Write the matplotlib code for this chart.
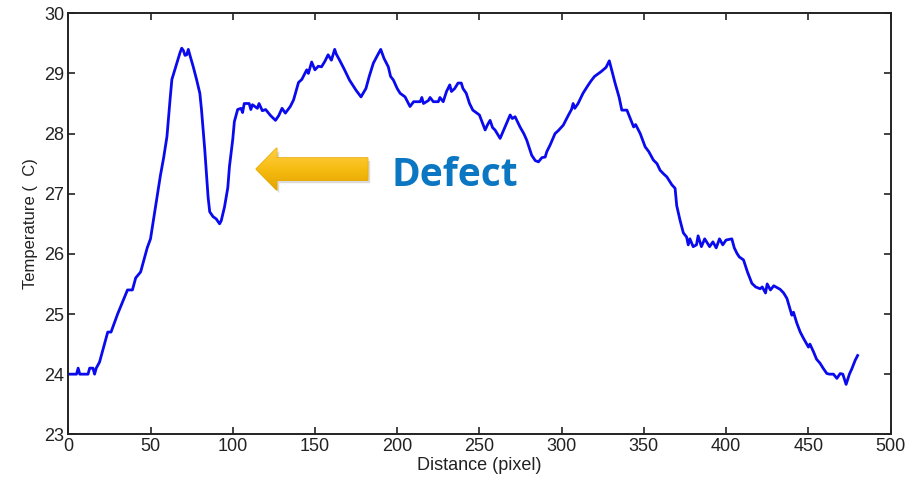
import numpy as np
import matplotlib
matplotlib.use("Agg")
import matplotlib.pyplot as plt
from matplotlib.patches import Polygon
from matplotlib.colors import LinearSegmentedColormap

# =====================================
# DATA
# =====================================

distance = [0, 5, 6, 7, 12, 13, 15, 16, 17, 19, 21, 24, 26, 28, 30, 33, 36, 39, 41, 44,
            47, 48, 50, 52, 54, 56, 58, 60, 62, 63, 66, 68, 69, 70, 71, 72, 73, 74, 76, 78,
            80, 81, 83, 85, 86, 88, 90, 92, 93, 95, 97, 98, 100, 101, 103, 105, 106, 107, 110, 111,
            112, 115, 116, 118, 120, 123, 126, 128, 130, 132, 135, 137, 140, 142, 145, 146, 148, 150, 152, 154,
            156, 158, 160, 162, 163, 165, 168, 171, 175, 178, 181, 183, 185.5, 188, 190, 192, 194.6, 196, 197.7, 200,
            201.8, 204.8, 207.8, 210, 214, 215, 216, 219, 220, 222, 225, 226, 228, 230, 232, 233, 235, 237, 239, 240,
            242, 244, 246, 250, 253.5, 255, 256.5, 258, 259.5, 262.6, 265.6, 268.7, 270, 271.7, 274.7, 277, 278.8, 281.8, 284, 285.9,
            288, 290, 291, 293, 296, 298, 301, 304, 306, 307, 308, 310, 313, 316, 318, 320, 324, 327, 329, 331,
            332.5, 335, 336.6, 339.7, 341, 343.8, 345, 347.8, 350.8, 353, 355.8, 358, 359.9, 362, 364, 367, 369, 370, 372, 374,
            376, 377, 378, 380, 382, 383, 385, 387, 390, 392, 394, 396, 398, 400, 403.5, 405, 406.6, 408, 410.6, 413,
            415.7, 418, 420.7, 422, 424, 425, 427, 429, 432.9, 435, 437, 440, 441, 443, 445.1, 447, 450.1, 451, 453.2, 455,
            457.2, 459, 461.3, 463, 465.3, 467.4, 469.4, 471, 473, 475, 476.5, 478.5, 480]

temperature = [24.0, 24.0, 24.1, 24.0, 24.0, 24.1, 24.1, 24.0, 24.1, 24.2, 24.4, 24.7, 24.7, 24.85, 25.0, 25.2, 25.4, 25.4, 25.6, 25.7,
               26.0, 26.1, 26.25, 26.6, 26.95, 27.3, 27.6, 27.95, 28.6, 28.9, 29.17, 29.35, 29.42, 29.38, 29.3, 29.31, 29.4, 29.3, 29.11, 28.9,
               28.67, 28.4, 27.73, 26.95, 26.7, 26.62, 26.58, 26.5, 26.55, 26.78, 27.1, 27.45, 27.9, 28.2, 28.4, 28.42, 28.35, 28.5, 28.5, 28.4,
               28.48, 28.42, 28.5, 28.38, 28.4, 28.3, 28.22, 28.3, 28.42, 28.34, 28.45, 28.56, 28.85, 28.9, 29.06, 29.0, 29.19, 29.06, 29.12, 29.11,
               29.2, 29.31, 29.22, 29.4, 29.32, 29.22, 29.06, 28.89, 28.72, 28.61, 28.75, 28.95, 29.17, 29.3, 29.4, 29.25, 29.11, 28.95, 28.89, 28.75,
               28.67, 28.61, 28.45, 28.53, 28.53, 28.6, 28.5, 28.55, 28.6, 28.53, 28.53, 28.6, 28.53, 28.7, 28.81, 28.7, 28.75, 28.84, 28.84, 28.75,
               28.67, 28.5, 28.39, 28.31, 28.06, 28.15, 28.22, 28.1, 28.06, 27.92, 28.11, 28.31, 28.25, 28.28, 28.11, 28.0, 27.89, 27.64, 27.55, 27.53,
               27.6, 27.61, 27.7, 27.81, 28.0, 28.05, 28.14, 28.3, 28.4, 28.5, 28.42, 28.5, 28.67, 28.8, 28.88, 28.95, 29.03, 29.1, 29.21, 29.0,
               28.84, 28.6, 28.39, 28.39, 28.3, 28.11, 28.15, 28.0, 27.78, 27.7, 27.56, 27.5, 27.39, 27.33, 27.28, 27.15, 27.09, 26.8, 26.56, 26.35,
               26.28, 26.15, 26.25, 26.12, 26.15, 26.3, 26.12, 26.25, 26.12, 26.2, 26.1, 26.25, 26.15, 26.23, 26.25, 26.1, 26.01, 25.95, 25.9, 25.7,
               25.51, 25.45, 25.42, 25.45, 25.35, 25.5, 25.4, 25.47, 25.41, 25.35, 25.26, 24.98, 25.03, 24.85, 24.7, 24.6, 24.45, 24.5, 24.37, 24.25,
               24.18, 24.1, 24.01, 24.0, 24.0, 23.93, 24.01, 24.0, 23.83, 24.0, 24.09, 24.23, 24.31]

x_ticks = [0, 50, 100, 150, 200, 250, 300, 350, 400, 450, 500]
y_ticks = [23, 24, 25, 26, 27, 28, 29, 30]

# arrow (data coords): tip, tail, widths
arrow_tip = (114.2, 27.41)
arrow_tail_x = 182.1
head_len = 12.6
head_w = 0.70
shaft_w = 0.37

# =====================================
# PLOT
# =====================================

plt.rcParams['font.family'] = ['Liberation Sans', 'DejaVu Sans']

fig = plt.figure(figsize=(9.19, 4.87), dpi=100)
ax = fig.add_axes([0.0743, 0.1082, 0.8947, 0.8645])

ax.plot(distance, temperature, color='#0a0aee', linewidth=2.0)

ax.set_xlim(0, 500)
ax.set_ylim(23, 30)
ax.set_xticks(x_ticks)
ax.set_yticks(y_ticks)
ax.tick_params(direction='in', length=5, width=1.2, top=True, right=True,
               labelsize=13, colors='#222222', pad=3)
for s in ax.spines.values():
    s.set_linewidth(1.4)
    s.set_color('#222222')

ax.set_xlabel("Distance (pixel)", fontsize=13, color='#222222', labelpad=1)
ax.set_ylabel("Temperature (  C)", fontsize=12, color='#222222', labelpad=4)

# block arrow pointing left
tx, ty = arrow_tip
pts = [(tx, ty),
       (tx + head_len, ty + head_w / 2),
       (tx + head_len, ty + shaft_w / 2),
       (arrow_tail_x, ty + shaft_w / 2),
       (arrow_tail_x, ty - shaft_w / 2),
       (tx + head_len, ty - shaft_w / 2),
       (tx + head_len, ty - head_w / 2)]
shadow = Polygon([(px + 1.5, py - 0.05) for px, py in pts], closed=True,
                 facecolor='#999999', edgecolor='none', alpha=0.35, zorder=3)
ax.add_patch(shadow)
arrow = Polygon(pts, closed=True, facecolor='#f6b90c', edgecolor='#e8a700',
                linewidth=1, zorder=4)
ax.add_patch(arrow)
cmap = LinearSegmentedColormap.from_list('gold', ['#e3a400', '#f7bd12', '#ffd04a'])
grad = np.linspace(0, 1, 64).reshape(-1, 1)
im = ax.imshow(grad, cmap=cmap, origin='lower', aspect='auto',
               extent=(tx, arrow_tail_x, ty - head_w / 2, ty + head_w / 2), zorder=5)
im.set_clip_path(arrow)

ax.text(196.7, 27.13, "Defect", fontsize=28, fontweight='bold', color='#0b76c1',
        family=['Open Sans', 'DejaVu Sans'], va='baseline', ha='left', zorder=6)

ax.set_xlim(0, 500)
ax.set_ylim(23, 30)

plt.savefig("out.png", dpi=100)
